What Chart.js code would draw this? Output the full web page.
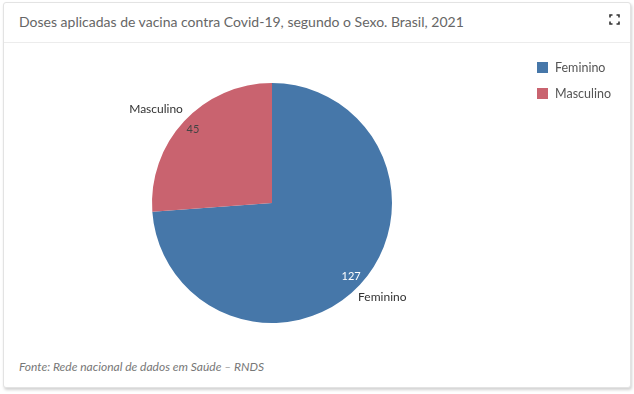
<!DOCTYPE html>
<html>
<head>
<meta charset="utf-8">
<script src="https://cdn.jsdelivr.net/npm/chart.js@4.4.1/dist/chart.umd.min.js"></script>
<style>
  body { margin: 0; background: #fff; font-family: Lato, "Noto Sans", sans-serif; }
  .card {
    position: absolute; left: 3px; top: 2px; width: 626px; height: 384px;
    border: 1px solid #e3e3e3; border-radius: 3px; background: #fff;
    box-shadow: 1px 2px 3px rgba(0,0,0,0.18);
  }
  .title {
    position: absolute; left: 0; top: 0; right: 0; height: 39px;
    border-bottom: 1px solid #ececec;
    font-size: 14px; color: #666; line-height: 37px; padding-left: 15px;
  }
  .expand { position: absolute; right: 10px; top: 11px; }
  .chart-box { position: absolute; left: 0; top: 41px; width: 626px; height: 310px; }
  .legend { position: absolute; left: 533px; top: 56px; font-size: 12.5px; color: #555; }
  .legend div { height: 26px; line-height: 18px; }
  .legend span.sw { display: inline-block; width: 11px; height: 11px; margin-right: 7px; vertical-align: -1px; }
  .source {
    position: absolute; left: 15px; top: 356px; font-size: 12px; font-style: italic; color: #777;
  }
</style>
</head>
<body>
<div class="card">
  <div class="title">Doses aplicadas de vacina contra Covid-19, segundo o Sexo. Brasil, 2021</div>
  <svg class="expand" width="11" height="11" viewBox="0 0 11 11" fill="none" stroke="#333" stroke-width="1.6">
    <path d="M1 3.5V1H3.5M7.5 1H10V3.5M10 7.5V10H7.5M3.5 10H1V7.5"/>
  </svg>
  <div class="chart-box"><canvas id="pieChart"></canvas></div>
  <div class="legend" id="legend"></div>
  <div class="source">Fonte: Rede nacional de dados em Saúde – RNDS</div>
</div>
<script>
// --- Chart data ---
const categories = ['Feminino', 'Masculino'];
const doses = [127, 45];
const sliceColors = ['#4677a9', '#c9636f'];
const valueColors = ['#ffffff', '#444444'];

// HTML legend built from the same arrays
const legendEl = document.getElementById('legend');
categories.forEach((name, i) => {
    const row = document.createElement('div');
    row.innerHTML = `<span class="sw" style="background:${sliceColors[i]}"></span>${name}`;
    legendEl.appendChild(row);
});

// Draw value labels inside and category labels outside each slice
const sliceLabels = {
    id: 'sliceLabels',
    afterDatasetsDraw(chart) {
        const ctx = chart.ctx;
        const meta = chart.getDatasetMeta(0);
        meta.data.forEach((arc, i) => {
            const mid = (arc.startAngle + arc.endAngle) / 2;
            const r = arc.outerRadius;
            const cx = Math.cos(mid), cy = Math.sin(mid);
            ctx.save();
            ctx.textBaseline = 'middle';

            // value
            ctx.font = '11px Lato, sans-serif';
            ctx.fillStyle = valueColors[i];
            ctx.textAlign = 'center';
            ctx.fillText(String(doses[i]), arc.x + cx * r * 0.9, arc.y + cy * r * 0.9);

            // category name
            ctx.font = '12px Lato, sans-serif';
            ctx.fillStyle = '#333';
            const ax = arc.x + cx * r * 1.15, ay = arc.y + cy * r * 1.15;
            if (cx < 0) {
                ctx.textAlign = 'right';
                ctx.fillText(categories[i], ax + 12, ay);
            } else {
                ctx.textAlign = 'left';
                ctx.fillText(categories[i], ax - 15, ay);
            }
            ctx.restore();
        });
    }
};

new Chart(document.getElementById('pieChart'), {
    type: 'pie',
    data: {
        labels: categories,
        datasets: [{
            data: doses,
            backgroundColor: sliceColors,
            borderWidth: 0
        }]
    },
    options: {
        responsive: true,
        maintainAspectRatio: false,
        animation: false,
        layout: { padding: { left: 148, right: 238, top: 39, bottom: 31 } },
        plugins: {
            legend: { display: false },
            tooltip: { enabled: false }
        }
    },
    plugins: [sliceLabels]
});
</script>
</body>
</html>
